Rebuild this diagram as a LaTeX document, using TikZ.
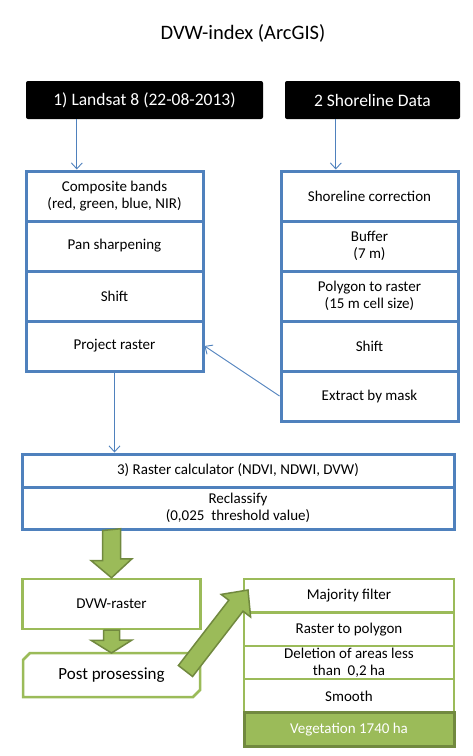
\documentclass[tikz,border=0pt]{standalone}
\usepackage{fontspec}
\setmainfont{Carlito}
\usetikzlibrary{arrows.meta,calc}
\definecolor{ofblue}{HTML}{4F81BD}
\definecolor{ofgreen}{HTML}{9BBB59}
\definecolor{ofgreendk}{HTML}{71893F}
\begin{document}
\begin{tikzpicture}[x=1pt,y=-1pt,
  every node/.style={font=\fontsize{15}{16.7}\selectfont},
  bbox/.style={draw=ofblue, line width=3pt, inner sep=0pt, align=center},
  blk/.style={fill=black, text=white, rounded corners=2pt, minimum height=38pt, inner sep=0pt, font=\fontsize{17.5}{19}\selectfont},
  gbox/.style={draw=ofgreen, line width=2.5pt, inner sep=0pt, align=center, minimum width=210pt, minimum height=33.4pt},
  conn/.style={draw=ofblue, line width=0.9pt, -{Straight Barb[length=6pt,width=11pt]}},
  bigarrow/.style={fill=ofgreen, draw=ofgreendk, line width=1.5pt, line join=miter}]
\useasboundingbox (0,0) rectangle (473,756);
\fill[white] (0,0) rectangle (473,756);

% title
\node[font=\fontsize{20.5}{22}\selectfont] (title) at (243,33) {DVW-index (ArcGIS)};

% black boxes
\node[blk, minimum width=237pt] (land) at (144.5,100) {1) Landsat 8 (22-08-2013)};
\node[blk, minimum width=175pt] (shore) at (372.5,100) {2 Shoreline Data};

% left column
\begin{scope}[every node/.append style={bbox, minimum width=177pt, minimum height=50pt}]
\node (comp)  at (114.5,196) {Composite bands\\(red, green, blue, NIR)};
\node (pan)   at (114.5,246) {Pan sharpening};
\node (shiftl) at (114.5,296) {Shift};
\node (proj)  at (114.5,346) {Project raster};
\end{scope}

% right column
\begin{scope}[every node/.append style={bbox, minimum width=177pt, minimum height=50pt}]
\node (scorr) at (369.5,196) {Shoreline correction};
\node (buf)   at (369.5,246) {Buffer\\(7 m)};
\node (p2r)   at (369.5,296) {Polygon to raster\\(15 m cell size)};
\node (shiftr) at (369.5,346) {Shift};
\node (extr)  at (369.5,396) {Extract by mask};
\end{scope}

% raster calculator
\node[bbox, minimum width=432pt, minimum height=33pt] (rcalc) at (238,470.5) {\raisebox{-4pt}{3) Raster calculator (NDVI, NDWI, DVW)}};
\node[bbox, minimum width=432pt, minimum height=42pt] (rclass) at (238,508) {Reclassify\\(0,025\ \ threshold value)};

% green left boxes
\node[draw=ofgreen, line width=2.5pt, minimum width=178pt, minimum height=50pt, inner sep=0pt] (dvw) at (111.5,604) {DVW-raster};
\node[minimum width=177pt, minimum height=44pt, inner sep=0pt, outer sep=0pt, font=\fontsize{17}{19}\selectfont] (post) at (111.5,675) {Post prosessing};
\draw[draw=ofgreen, line width=2.5pt, line join=miter]
  ([yshift=-7pt]post.north west) -- ([xshift=7pt]post.north west) -- (post.north east)
  -- ([yshift=7pt]post.south east) -- ([xshift=-7pt]post.south east) -- (post.south west) -- cycle;

% green right column
\node[gbox] (maj)  at (349,595.7) {Majority filter};
\node[gbox] (r2p)  at (349,629.1) {Raster to polygon};
\node[gbox] (del)  at (349,662.5) {Deletion of areas less\\than\ \ 0,2 ha};
\node[gbox] (smo)  at (349,695.9) {Smooth};
\node[gbox, fill=ofgreen, draw=ofgreendk, line width=3pt, text=white] (veg) at (349,729.3) {Vegetation 1740 ha};

% thin connectors
\draw[conn] ([xshift=51pt]land.south west) coordinate (l1) -- (l1 |- comp.north);
\draw[conn] ([xshift=51pt]shore.south west) coordinate (s1) -- (s1 |- scorr.north);
\draw[conn] (extr.west) -- (proj.east);
\draw[conn] (proj.south) -- (proj.south |- rcalc.north);

% big green arrows
\draw[bigarrow] (dvw.north |- rclass.south) ++(-9,0) -- ++(0,30) -- ++(-11.5,0) -- (dvw.north)
  -- ++(20.5,-19) -- ++(-11.5,0) -- ++(0,-30) -- cycle;
\draw[bigarrow] (post.north |- dvw.south) ++(-8,0) -- ++(0,10) -- ++(-12.5,0) -- (post.north)
  -- ++(20.5,-13) -- ++(-12.5,0) -- ++(0,-10) -- cycle;
\draw[bigarrow] (178.4,665.5) -- (228.8,600.2) -- (221.2,594.4) -- (248,590)
  -- (250.6,617) -- (243,611.2) -- (192.6,676.5) -- cycle;
\end{tikzpicture}
\end{document}
